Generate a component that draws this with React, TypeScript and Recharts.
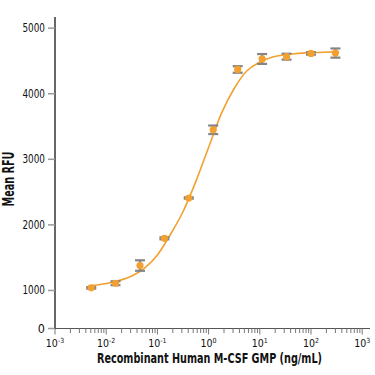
import React from "react";
import { ComposedChart, Line, Scatter, ErrorBar, XAxis, YAxis } from "recharts";

// Measured points (ng/mL, Mean RFU, ± error)
const conc = [0.0051, 0.0152, 0.0457, 0.137, 0.41, 1.23, 3.7, 11.1, 33.3, 100, 300];
const meanRFU = [1040, 1110, 1380, 1795, 2410, 3450, 4370, 4530, 4565, 4615, 4620];
const errRFU = [12, 30, 80, 15, 10, 65, 50, 75, 45, 20, 70];

// Fitted curve
const fitConc = [0.0045, 0.01, 0.0178, 0.0316, 0.0562, 0.1, 0.178, 0.316, 0.562, 1, 1.78, 3.16, 5.62, 10, 17.8, 31.6, 56.2, 100, 178, 355];
const fitRFU = [1068, 1105, 1150, 1220, 1340, 1540, 1850, 2200, 2660, 3180, 3700, 4080, 4350, 4480, 4560, 4595, 4615, 4625, 4633, 4640];

const xMajor = [0.001, 0.01, 0.1, 1, 10, 100, 1000];
const xMajorExp = ["-3", "-2", "-1", "0", "1", "2", "3"];
const xMinorMult = [2, 3, 4, 5, 6, 7, 8, 9];

const yTicks = [420, 1000, 2000, 3000, 4000, 5000];
const yTickLabels = ["0", "1000", "2000", "3000", "4000", "5000"];

const points = conc.map((x, i) => ({ x, y: meanRFU[i], err: errRFU[i] }));
const fit = fitConc.map((x, i) => ({ x, y: fitRFU[i] }));

const xTicks: number[] = [];
xMajor.forEach((m, i) => {
  xTicks.push(m);
  if (i < xMajor.length - 1) xMinorMult.forEach((k) => xTicks.push(+(m * k).toPrecision(3)));
});

const FONT = "'DejaVu Sans Condensed', 'Liberation Sans Narrow', 'DejaVu Sans', sans-serif";
const ORANGE = "#F2A030";
const GRAY = "#858585";

const XTick = (props: any) => {
  const { x, y, payload } = props;
  const v = payload.value;
  const idx = xMajor.findIndex((m) => Math.abs(m - v) / m < 1e-6);
  const major = idx >= 0;
  return (
    <g>
      <line x1={x} x2={x} y1={y} y2={y + (major ? 6 : 4.5)} stroke="#777" strokeWidth={1} />
      {major && (
        <text x={x} y={y + 18} textAnchor="middle" fontFamily={FONT} fontSize={10.5} fill="#111">
          <tspan>10</tspan>
          <tspan dy={-4} fontSize={7}>{xMajorExp[idx]}</tspan>
        </text>
      )}
    </g>
  );
};

const YTick = (props: any) => {
  const { x, y, payload } = props;
  const i = yTicks.indexOf(payload.value);
  const label = yTickLabels[i];
  return (
    <text
      x={x}
      y={y + 4}
      textAnchor="end"
      fontFamily={FONT}
      fontSize={12.5}
      fill="#111"
      textLength={label.length > 1 ? 22.5 : undefined}
      lengthAdjust="spacingAndGlyphs"
    >
      {label}
    </text>
  );
};

export default function App() {
  return (
    <div style={{ position: "absolute", left: 0, top: 0, width: 375, height: 375, background: "#fff" }}>
      <ComposedChart width={375} height={375} margin={{ top: 17, right: 5, bottom: 0, left: 0 }}>
        <XAxis
          dataKey="x"
          type="number"
          scale="log"
          domain={[0.001, 1420]}
          allowDataOverflow
          ticks={xTicks}
          interval={0}
          tick={<XTick />}
          tickLine={false}
          tickSize={0}
          tickMargin={0}
          height={46.5}
          axisLine={{ stroke: "#555", strokeWidth: 1.2 }}
          label={{
            content: () => (
              <text
                x={209.5}
                y={362.5}
                textAnchor="middle"
                fontFamily={FONT}
                fontWeight="bold"
                fontSize={14}
                fill="#111"
                textLength={225}
                lengthAdjust="spacingAndGlyphs"
              >
                Recombinant Human M-CSF GMP (ng/mL)
              </text>
            ),
          }}
        />
        <YAxis
          type="number"
          domain={[420, 5170]}
          allowDataOverflow
          ticks={yTicks}
          interval={0}
          width={55}
          tickSize={7}
          tickMargin={3}
          tick={<YTick />}
          tickLine={{ stroke: "#999", strokeWidth: 1.5 }}
          axisLine={{ stroke: "#000", strokeWidth: 1.2 }}
          label={{
            content: () => (
              <text
                x={14}
                y={179}
                transform="rotate(-90 14 179)"
                textAnchor="middle"
                fontFamily={FONT}
                fontWeight="bold"
                fontSize={15}
                fill="#111"
                textLength={55}
                lengthAdjust="spacingAndGlyphs"
              >
                Mean RFU
              </text>
            ),
          }}
        />
        <Line
          data={fit}
          dataKey="y"
          type="monotone"
          stroke={ORANGE}
          strokeWidth={1.6}
          dot={false}
          activeDot={false}
          isAnimationActive={false}
        />
        <Scatter
          data={points}
          dataKey="y"
          isAnimationActive={false}
          shape={(p: any) => <circle cx={p.cx} cy={p.cy} r={3.6} fill={ORANGE} />}
        />
        <Scatter
          data={points}
          dataKey="y"
          isAnimationActive={false}
          shape={() => <g />}
        >
          <ErrorBar dataKey="err" direction="y" width={5} stroke={GRAY} strokeWidth={2.2} isAnimationActive={false} />
        </Scatter>
      </ComposedChart>
    </div>
  );
}
